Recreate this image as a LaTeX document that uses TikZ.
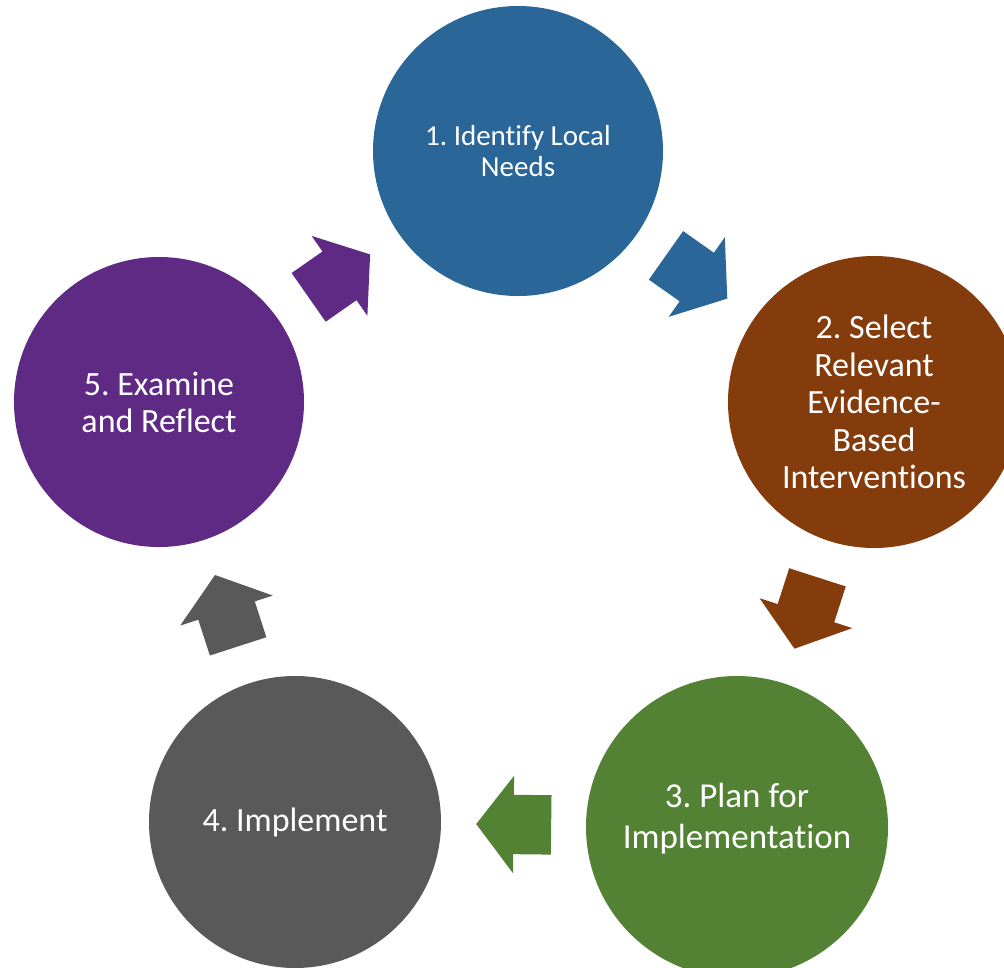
\documentclass[tikz,border=0pt]{standalone}
\usepackage{fontspec}
\setmainfont{Carlito}[Ligatures=NoCommon]
\usetikzlibrary{shapes.arrows}
\frenchspacing

\definecolor{needsblue}{RGB}{43,102,153}
\definecolor{selectbrown}{RGB}{132,60,12}
\definecolor{plangreen}{RGB}{84,130,53}
\definecolor{implgray}{RGB}{89,89,89}
\definecolor{reflectpurple}{RGB}{94,42,132}

\begin{document}
\begin{tikzpicture}[x=1pt,y=-1pt,
		phase/.style={circle,inner sep=0pt,minimum size=292pt,text=white,align=center},
		cyclearrow/.style={single arrow,inner xsep=0pt,inner ysep=29.5pt,minimum height=75pt,
			single arrow head extend=19pt,single arrow tip angle=105,sloped,allow upside down}]
		\useasboundingbox (0,0) rectangle (1004,967);
		\clip (0,0) rectangle (1004,967);
		\node[phase,minimum size=290pt,fill=needsblue,font=\fontsize{29}{31}\selectfont] (needs) at (518,151) {1. Identify Local\\Needs};
		\node[phase,fill=selectbrown,font=\fontsize{34}{37.5}\selectfont] (select) at (874,402) {2. Select\\Relevant\\Evidence-\\Based\\Interventions};
		\node[phase,minimum size=302pt,fill=plangreen,text depth=23pt,font=\fontsize{35}{41}\selectfont] (plan) at (737,827) {3. Plan for\\Implementation};
		\node[phase,fill=implgray,font=\fontsize{34}{37}\selectfont] (implement) at (295,822) {4. Implement};
		\node[phase,minimum size=290pt,fill=reflectpurple,font=\fontsize{34}{37}\selectfont] (reflect) at (159,402) {5. Examine\\and Reflect};
		\path (needs) -- (select) node[pos=0.43,cyclearrow,fill=needsblue] (a1) {};
		\path (select) -- (plan) node[pos=0.43,cyclearrow,fill=selectbrown] (a2) {};
		\path (plan) -- (implement) node[pos=0.42,cyclearrow,fill=plangreen] (a3) {};
		\path (implement) -- (reflect) node[pos=0.43,cyclearrow,fill=implgray] (a4) {};
		\path (reflect) -- (needs) node[pos=0.43,cyclearrow,fill=reflectpurple] (a5) {};
	\end{tikzpicture}
\end{document}
